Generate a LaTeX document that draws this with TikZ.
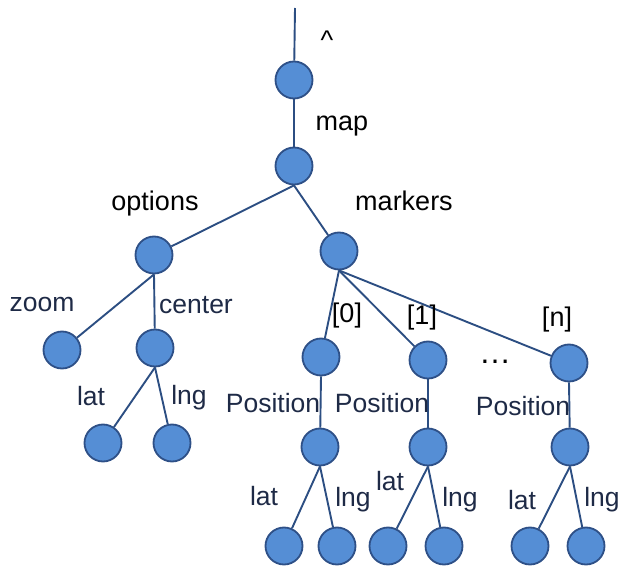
\documentclass[tikz,border=0pt]{standalone}
\usepackage{fontspec}
\setmainfont{Liberation Sans}
\definecolor{nodefill}{RGB}{85,142,213}
\definecolor{nodeline}{RGB}{46,80,135}
\definecolor{edgeline}{RGB}{44,78,130}
\definecolor{navytext}{RGB}{30,42,70}
\tikzset{
  treenode/.style={circle, fill=nodefill, draw=nodeline, line width=1.8pt, minimum size=37pt, inner sep=0pt},
  treeedge/.style={draw=edgeline, line width=1.9pt},
  keylabel/.style={font=\fontsize{27}{30}\selectfont, text=black, inner sep=0pt},
  fieldlabel/.style={font=\fontsize{26.5}{30}\selectfont, text=navytext, inner sep=0pt},
}
\begin{document}
\begin{tikzpicture}[x=1pt, y=-1pt]
\useasboundingbox (0,0) rectangle (619,567);

% nodes
\coordinate (top) at (295,8);
\node[treenode] (root) at (294,80) {};
\node[treenode] (map) at (294,166) {};
\node[treenode] (opt) at (154,255) {};
\node[treenode] (mrk) at (339,251) {};
\node[treenode] (zoom) at (62,350) {};
\node[treenode] (ctr) at (155,348) {};
\node[treenode] (clat) at (103,443) {};
\node[treenode] (clng) at (172,443) {};
\node[treenode] (m0) at (321,357) {};
\node[treenode] (m1) at (428,360) {};
\node[treenode] (mn) at (569,363) {};
\node[treenode] (p0) at (320,447) {};
\node[treenode] (p1) at (428,447) {};
\node[treenode] (pn) at (570,447) {};
\node[treenode] (p0lat) at (284,546) {};
\node[treenode] (p0lng) at (337,546) {};
\node[treenode] (p1lat) at (388,546) {};
\node[treenode] (p1lng) at (444,546) {};
\node[treenode] (pnlat) at (530,546) {};
\node[treenode] (pnlng) at (586,546) {};

% connectors
\draw[treeedge] (top) -- (root);
\draw[treeedge] (root.south) -- (map);
\draw[treeedge] (map.south) -- (opt);
\draw[treeedge] (map.south) -- (mrk);
\draw[treeedge] (opt.south) -- (zoom);
\draw[treeedge] (opt.south) -- (ctr);
\draw[treeedge] (ctr.south) -- (clat);
\draw[treeedge] (ctr.south) -- (clng);
\draw[treeedge] (mrk.south) -- (m0);
\draw[treeedge] (mrk.south) -- (m1);
\draw[treeedge] (mrk.south) -- (mn);
\draw[treeedge] (m0.south) -- (p0);
\draw[treeedge] (m1.south) -- (p1);
\draw[treeedge] (mn.south) -- (pn);
\draw[treeedge] (p0.south) -- (p0lat);
\draw[treeedge] (p0.south) -- (p0lng);
\draw[treeedge] (p1.south) -- (p1lat);
\draw[treeedge] (p1.south) -- (p1lng);
\draw[treeedge] (pn.south) -- (pnlat);
\draw[treeedge] (pn.south) -- (pnlng);

% labels
\node[keylabel] (lcaret) at (327,40) {\textasciicircum};
\node[keylabel] (lmap) at (342,126) {map};
\node[keylabel] (lopt) at (155,204) {options};
\node[keylabel] (lmrk) at (404,201) {markers};
\node[fieldlabel] (lzoom) at (42,304) {zoom};
\node[fieldlabel] (lctr) at (196,305) {center};
\node[fieldlabel] (lclat) at (91,396) {lat};
\node[fieldlabel] (lclng) at (189,398) {lng};
\node[keylabel] (l0) at (347,316) {[0]};
\node[keylabel] (l1) at (422,318) {[1]};
\node[keylabel] (ln) at (557,320) {[n]};
\node[keylabel, font=\fontsize{32}{34}\selectfont] (ldots) at (495,362) {\dots};
\node[fieldlabel] (lpos0) at (273,403) {Position};
\node[fieldlabel] (lpos1) at (382,403) {Position};
\node[fieldlabel] (lposn) at (523,406) {Position};
\node[fieldlabel] (lp0lat) at (264,496) {lat};
\node[fieldlabel] (lp0lng) at (353,500) {lng};
\node[fieldlabel] (lp1lat) at (390,481) {lat};
\node[fieldlabel] (lp1lng) at (460,500) {lng};
\node[fieldlabel] (lpnlat) at (522,500) {lat};
\node[fieldlabel] (lpnlng) at (602,500) {lng};
\end{tikzpicture}
\end{document}
